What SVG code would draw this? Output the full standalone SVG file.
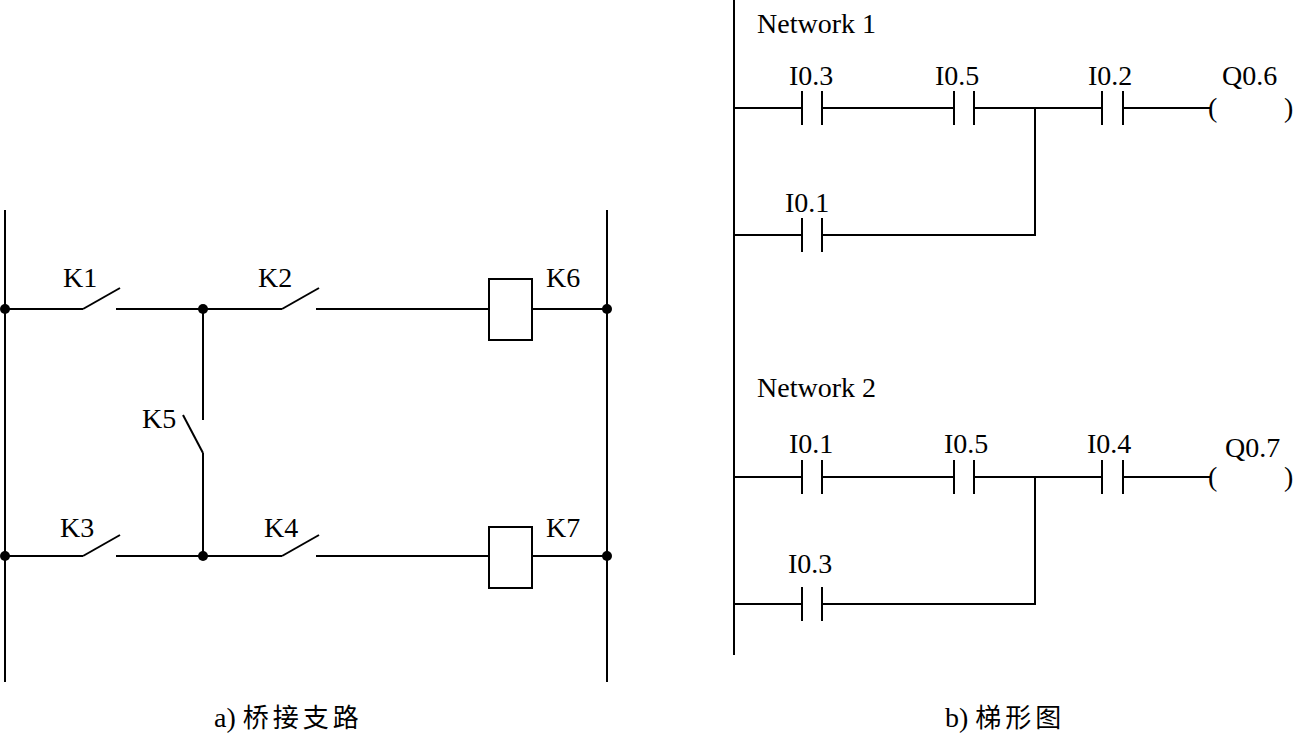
<svg xmlns="http://www.w3.org/2000/svg" width="1295" height="735" viewBox="0 0 1295 735">
<style>
.w{stroke:#000;stroke-width:2;fill:none;stroke-linecap:butt}
.t{font-family:"Liberation Serif","Times New Roman",serif;font-size:28px;fill:#000}
.p{font-family:"Liberation Serif","Times New Roman",serif;font-size:28px;fill:#000}
.c{font-family:"Noto Sans CJK SC","Noto Sans CJK JP",sans-serif;font-size:26px;letter-spacing:4px}
.dot{fill:#000}
</style>
<rect width="1295" height="735" fill="#fff"/>

<!-- a) bridge circuit -->
<g id="connectors-a" class="w">
  <line x1="5" y1="210" x2="5" y2="682"/>
  <line x1="607" y1="210" x2="607" y2="682"/>
  <line x1="5" y1="309" x2="83" y2="309"/>
  <line x1="116" y1="309" x2="282" y2="309"/>
  <line x1="316" y1="309" x2="489" y2="309"/>
  <line x1="532" y1="309" x2="607" y2="309"/>
  <line x1="5" y1="556" x2="83" y2="556"/>
  <line x1="116" y1="556" x2="282" y2="556"/>
  <line x1="316" y1="556" x2="489" y2="556"/>
  <line x1="532" y1="556" x2="607" y2="556"/>
  <line x1="203" y1="309" x2="203" y2="420"/>
  <line x1="203" y1="453" x2="203" y2="556"/>
</g>
<g id="K1"><line class="w" x1="83" y1="309" x2="120" y2="288"/><text class="t" x="63" y="287">K1</text></g>
<g id="K2"><line class="w" x1="282" y1="309" x2="319" y2="288"/><text class="t" x="258" y="287">K2</text></g>
<g id="K3"><line class="w" x1="83" y1="556" x2="120" y2="535"/><text class="t" x="60" y="537">K3</text></g>
<g id="K4"><line class="w" x1="282" y1="556" x2="319" y2="535"/><text class="t" x="264" y="537">K4</text></g>
<g id="K5"><line class="w" x1="203" y1="453" x2="183" y2="415"/><text class="t" x="142" y="428">K5</text></g>
<g id="K6"><rect class="w" x="489" y="279" width="43" height="61"/><text class="t" x="546" y="287">K6</text></g>
<g id="K7"><rect class="w" x="489" y="527" width="43" height="61"/><text class="t" x="546" y="537">K7</text></g>
<g id="junctions">
  <circle class="dot" cx="5" cy="309" r="5"/>
  <circle class="dot" cx="203" cy="309" r="5"/>
  <circle class="dot" cx="607" cy="309" r="5"/>
  <circle class="dot" cx="5" cy="556" r="5"/>
  <circle class="dot" cx="203" cy="556" r="5"/>
  <circle class="dot" cx="607" cy="556" r="5"/>
</g>
<g id="caption-a"><text class="t" x="214" y="727">a) <tspan class="c">桥接支路</tspan></text></g>

<!-- b) ladder diagram -->
<g id="connectors-b" class="w">
  <line x1="734" y1="0" x2="734" y2="655"/>
  <line x1="734" y1="108" x2="802" y2="108"/>
  <line x1="822" y1="108" x2="954" y2="108"/>
  <line x1="974" y1="108" x2="1102" y2="108"/>
  <line x1="1123" y1="108" x2="1210" y2="108"/>
  <polyline points="734,235 802,235"/>
  <polyline points="822,235 1035,235 1035,108"/>
  <line x1="734" y1="477" x2="802" y2="477"/>
  <line x1="822" y1="477" x2="954" y2="477"/>
  <line x1="974" y1="477" x2="1102" y2="477"/>
  <line x1="1123" y1="477" x2="1210" y2="477"/>
  <polyline points="734,604 802,604"/>
  <polyline points="822,604 1035,604 1035,477"/>
</g>
<g id="network1-title"><text class="t" x="757" y="33">Network 1</text></g>
<g id="n1-I0.3"><path class="w" d="M802,91V125M822,91V125"/><text class="t" x="789" y="85">I0.3</text></g>
<g id="n1-I0.5"><path class="w" d="M954,91V125M974,91V125"/><text class="t" x="935" y="85">I0.5</text></g>
<g id="n1-I0.2"><path class="w" d="M1102,91V125M1123,91V125"/><text class="t" x="1088" y="85">I0.2</text></g>
<g id="n1-I0.1"><path class="w" d="M802,218V252M822,218V252"/><text class="t" x="785" y="212">I0.1</text></g>
<g id="n1-Q0.6"><text class="p" x="1208" y="117">(</text><text class="p" x="1284" y="117">)</text><text class="t" x="1222" y="85">Q0.6</text></g>

<g id="network2-title"><text class="t" x="757" y="397">Network 2</text></g>
<g id="n2-I0.1"><path class="w" d="M802,460V494M822,460V494"/><text class="t" x="789" y="453">I0.1</text></g>
<g id="n2-I0.5"><path class="w" d="M954,460V494M974,460V494"/><text class="t" x="944" y="453">I0.5</text></g>
<g id="n2-I0.4"><path class="w" d="M1102,460V494M1123,460V494"/><text class="t" x="1087" y="453">I0.4</text></g>
<g id="n2-I0.3"><path class="w" d="M802,587V621M822,587V621"/><text class="t" x="788" y="573">I0.3</text></g>
<g id="n2-Q0.7"><text class="p" x="1208" y="486">(</text><text class="p" x="1284" y="486">)</text><text class="t" x="1225" y="457">Q0.7</text></g>

<g id="caption-b"><text class="t" x="945" y="727">b) <tspan class="c">梯形图</tspan></text></g>
</svg>
